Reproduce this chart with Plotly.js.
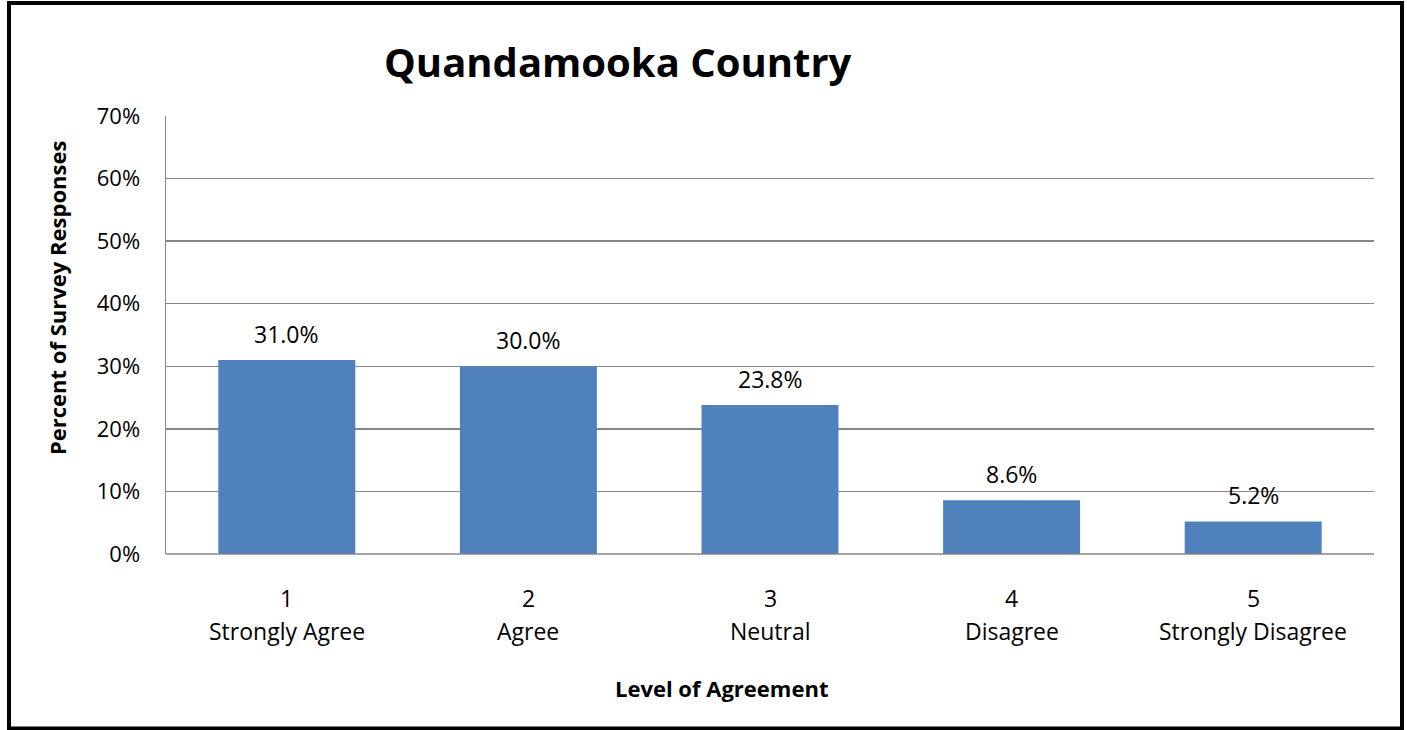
<!DOCTYPE html>
<html>
<head>
<meta charset="utf-8">
<script src="https://cdn.plot.ly/plotly-3.0.1.min.js"></script>
<style>html,body{margin:0;padding:0;background:#fff;}#chart{width:1407px;height:730px;}</style>
</head>
<body>
<div id="chart"></div>
<script>
const categories = ["1", "2", "3", "4", "5"];
const categoryNames = ["Strongly Agree", "Agree", "Neutral", "Disagree", "Strongly Disagree"];
const values = [31.0, 30.0, 23.8, 8.6, 5.2];
const valueLabels = ["31.0%", "30.0%", "23.8%", "8.6%", "5.2%"];
const yTickVals = [0, 10, 20, 30, 40, 50, 60, 70];

const FONT = "'Open Sans', 'Noto Sans', sans-serif";
const W = 1407, H = 730;
const L = 166, R = 1374, T = 116, B = 554;
const px = x => (x - L) / (R - L);
const py = y => (B - y) / (B - T);

const trace = {
  type: 'bar',
  x: categoryNames,
  y: values,
  marker: {color: '#4F81BD', line: {width: 0}},
  width: 0.567,
  hoverinfo: 'skip'
};

const annotations = [];
categories.forEach((c, i) => {
  annotations.push({
    x: i, y: values[i], xref: 'x', yref: 'y',
    text: valueLabels[i], showarrow: false,
    yanchor: 'middle', yshift: 26,
    font: {family: FONT, size: 23, color: '#000'}
  });
  annotations.push({
    x: i, y: py(598), xref: 'x', yref: 'paper',
    text: c, showarrow: false, yanchor: 'middle',
    font: {family: FONT, size: 23, color: '#000'}
  });
  annotations.push({
    x: i, y: py(631), xref: 'x', yref: 'paper',
    text: categoryNames[i], showarrow: false, yanchor: 'middle',
    font: {family: FONT, size: 23, color: '#000'}
  });
});
annotations.push({
  xref: 'paper', yref: 'paper', x: px(618), y: py(62),
  text: '<b>Quandamooka Country</b>', showarrow: false,
  xanchor: 'center', yanchor: 'middle',
  font: {family: FONT, size: 40, color: '#000'}
});
annotations.push({
  xref: 'paper', yref: 'paper', x: px(721), y: py(688),
  text: '<b>Level of Agreement</b>', showarrow: false,
  xanchor: 'center', yanchor: 'middle',
  font: {family: FONT, size: 22, color: '#000'}
});
annotations.push({
  xref: 'paper', yref: 'paper', x: px(57), y: py(298),
  text: '<b>Percent of Survey Responses</b>', showarrow: false,
  textangle: -90,
  xanchor: 'center', yanchor: 'middle',
  font: {family: FONT, size: 22, color: '#000'}
});

const layout = {
  width: W, height: H,
  margin: {l: L, r: W - R, t: T, b: H - B, pad: 0},
  paper_bgcolor: '#fff', plot_bgcolor: '#fff',
  showlegend: false,
  bargap: 0.433,
  xaxis: {
    type: 'category',
    range: [-0.5, categoryNames.length - 0.5],
    showgrid: false, zeroline: false,
    showline: false, showticklabels: false,
    ticks: '', ticklen: 0,
    automargin: false
  },
  yaxis: {
    range: [0, 70],
    tickvals: yTickVals,
    ticktext: yTickVals.map(v => v + '%'),
    showgrid: true, gridcolor: '#868686', gridwidth: 1.5,
    zeroline: false,
    showline: true, linecolor: '#868686', linewidth: 1.5,
    ticks: '', ticklen: 0, ticklabelstandoff: 20,
    tickfont: {family: FONT, size: 22, color: '#000'},
    automargin: false
  },
  annotations: annotations,
  shapes: [
    {type: 'line', xref: 'paper', yref: 'paper', x0: 0, x1: 1, y0: 0, y1: 0,
     line: {color: '#868686', width: 1.5}},
    {type: 'rect', xref: 'paper', yref: 'paper',
     x0: px(9), x1: px(1402), y0: py(3), y1: py(728.5),
     line: {color: '#000', width: 4}, fillcolor: 'rgba(0,0,0,0)'}
  ]
};

Plotly.newPlot('chart', [trace], layout, {displayModeBar: false, staticPlot: true});
</script>
</body>
</html>
